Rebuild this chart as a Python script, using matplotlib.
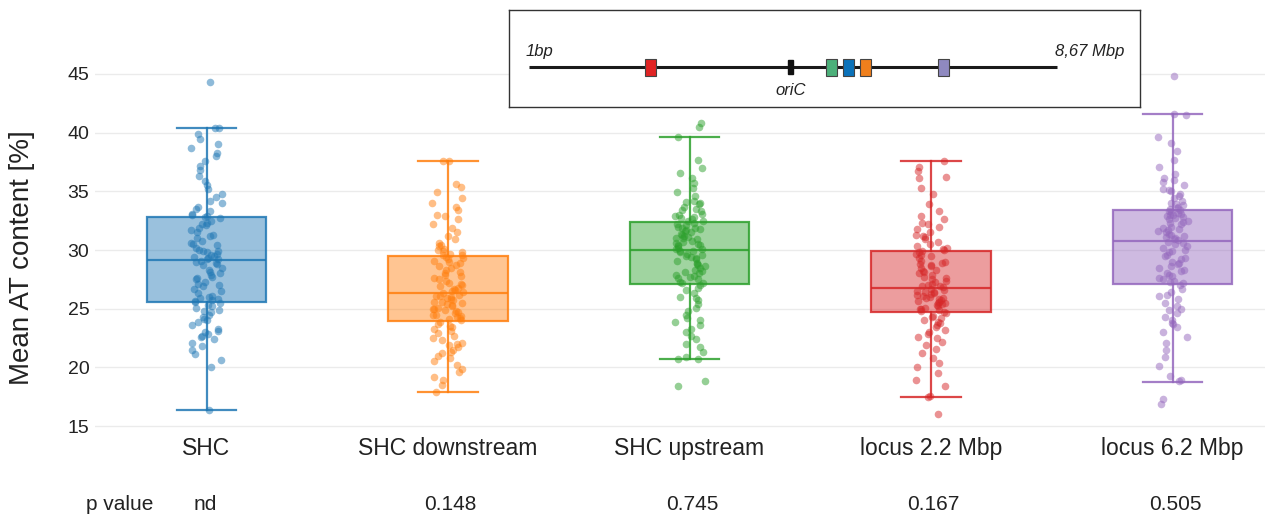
import matplotlib
matplotlib.use("Agg")
import matplotlib.pyplot as plt
from matplotlib.patches import Rectangle
import matplotlib.transforms as mtransforms
import numpy as np

plt.rcParams['font.family'] = ['Liberation Sans', 'DejaVu Sans']

categories = ["SHC", "SHC downstream", "SHC upstream", "locus 2.2 Mbp", "locus 6.2 Mbp"]
colors = ["#1f77b4", "#ff7f0e", "#2ca02c", "#d62728", "#9467bd"]
p_values = ["nd", "0.148", "0.745", "0.167", "0.505"]

# box statistics
q1 = [25.57, 23.95, 27.1, 24.7, 27.1]
med = [29.15, 26.3, 30.0, 26.8, 30.8]
q3 = [32.8, 29.5, 32.4, 29.9, 33.4]
whislo = [16.4, 17.9, 20.7, 17.5, 18.75]
whishi = [40.4, 37.6, 39.6, 37.6, 41.6]

shc = [44.3, 40.4, 40.4, 39.9, 39.5, 39.0, 38.7, 38.3, 38.0, 37.6, 37.2, 36.8, 36.3, 35.9, 35.5, 35.2, 34.8,
       34.5, 34.2, 34.0, 33.7, 33.5, 33.3, 33.1, 33.0, 32.9, 32.85,
       32.7, 32.5, 32.3, 32.1, 31.9, 31.7, 31.5, 31.3, 31.0, 30.8, 30.6, 30.4, 30.2, 30.0, 29.9, 29.8, 29.7,
       29.6, 29.5, 29.4, 29.3, 29.25, 29.2, 32.2, 31.2, 30.5, 29.9,
       29.1, 29.0, 28.9, 28.7, 28.5, 28.3, 28.1, 27.9, 27.7, 27.5, 27.3, 27.1, 26.9, 26.7, 26.5, 26.3, 26.1,
       25.9, 25.8, 25.7, 25.6, 28.8, 28.0, 27.0, 26.0, 25.65, 27.6,
       25.5, 25.3, 25.1, 24.9, 24.7, 24.5, 24.3, 24.1, 23.9, 23.6, 23.3, 23.0, 22.8, 22.6, 22.4, 22.1, 21.8,
       21.5, 21.1, 20.6, 20.0, 24.8, 24.0, 23.1, 22.7, 16.4, 25.2]
shc_down = [37.6, 37.6, 35.6, 35.4, 34.9, 34.4, 34.0, 33.7, 33.4, 33.0, 32.9, 32.6, 32.2, 31.9, 31.5, 31.2,
            30.9, 30.6, 30.3, 30.1, 30.0, 29.9, 29.8, 29.7, 29.6, 30.4, 29.55,
            29.4, 29.3, 29.2, 29.0, 28.9, 28.7, 28.5, 28.3, 28.1, 27.9, 27.8, 27.6, 27.4, 27.2, 27.0, 26.9,
            26.8, 26.7, 26.6, 26.5, 26.4, 26.35, 28.0, 27.5, 29.1, 28.6, 27.1,
            26.2, 26.1, 26.0, 25.9, 25.8, 25.7, 25.6, 25.5, 25.4, 25.3, 25.2, 25.1, 25.0, 24.9, 24.8, 24.7,
            24.6, 24.5, 24.4, 24.3, 24.2, 24.1, 24.0, 25.55, 24.95, 24.45, 26.05,
            23.9, 23.7, 23.5, 23.3, 23.1, 22.9, 22.7, 22.5, 22.3, 22.1, 21.9, 21.7, 21.5, 21.3, 21.0, 20.8,
            20.5, 20.2, 19.9, 19.6, 19.2, 18.9, 18.5, 17.9, 23.4, 22.0, 21.2]
shc_up = [40.8, 40.5, 39.6, 37.7, 37.0, 36.6, 36.1, 35.7, 35.3, 34.9, 34.6, 34.2, 34.0, 33.9, 33.7, 33.5,
          33.3, 33.1, 33.0, 32.9, 32.8, 32.7, 32.6, 32.5, 34.1, 33.4, 32.45,
          32.3, 32.2, 32.1, 32.0, 31.9, 31.8, 31.7, 31.6, 31.5, 31.4, 31.3, 31.2, 31.1, 31.0, 30.9, 30.8,
          30.7, 30.6, 30.5, 30.4, 30.3, 30.2, 30.1, 30.05, 31.85, 31.05, 30.45,
          29.9, 29.8, 29.7, 29.6, 29.5, 29.3, 29.1, 28.9, 28.7, 28.5, 28.3, 28.1, 27.9, 27.7, 27.5, 27.3,
          27.2, 29.4, 28.8, 28.2, 27.6, 29.95, 28.0, 27.8, 29.2, 28.6, 27.15,
          27.0, 26.8, 26.6, 26.3, 26.0, 25.7, 25.4, 25.1, 24.8, 24.5, 24.2, 23.9, 23.6, 23.3, 23.0, 22.7,
          22.4, 22.0, 21.7, 21.3, 20.9, 20.7, 20.7, 18.8, 18.4, 25.9, 24.0]
locus22 = [37.6, 37.1, 36.7, 36.2, 36.1, 35.3, 34.8, 33.9, 33.3, 32.9, 32.6, 32.3, 32.0, 31.8, 31.5, 31.3,
           31.1, 30.9, 30.7, 30.5, 30.3, 30.2, 30.1, 30.0, 31.2, 32.2, 29.95,
           29.8, 29.7, 29.5, 29.3, 29.1, 28.9, 28.7, 28.5, 28.3, 28.1, 27.9, 27.7, 27.5, 27.3, 27.1, 27.0,
           26.9, 26.85, 29.6, 28.8, 28.0, 27.4, 29.0, 28.2, 27.6, 26.95, 28.6,
           26.7, 26.6, 26.5, 26.4, 26.3, 26.2, 26.1, 26.0, 25.9, 25.8, 25.7, 25.6, 25.5, 25.4, 25.3, 25.2,
           25.1, 25.0, 24.9, 24.8, 24.75, 26.45, 25.95, 25.45, 24.95, 26.25, 25.65,
           24.6, 24.4, 24.2, 24.0, 23.8, 23.6, 23.4, 23.2, 23.0, 22.8, 22.5, 22.2, 21.9, 21.6, 21.2, 20.8,
           20.4, 20.0, 19.5, 18.9, 18.4, 17.6, 17.5, 16.0, 24.3, 23.9, 22.6]
locus62 = [44.8, 41.6, 41.5, 39.6, 39.1, 38.4, 37.7, 37.1, 36.5, 36.1, 35.8, 35.5, 35.2, 35.0, 34.8, 34.6,
           34.4, 34.2, 34.0, 33.9, 33.8, 33.7, 33.6, 33.5, 36.0, 35.1, 33.45,
           33.3, 33.2, 33.1, 33.0, 32.9, 32.8, 32.6, 32.4, 32.2, 32.0, 31.8, 31.6, 31.4, 31.2, 31.0, 30.9,
           30.85, 33.15, 32.7, 32.3, 31.9, 31.5, 31.1, 32.95, 32.5, 31.7, 31.3,
           30.7, 30.5, 30.3, 30.0, 29.8, 29.5, 29.3, 29.0, 28.8, 28.5, 28.3, 28.0, 27.8, 27.5, 27.3, 27.15,
           30.6, 29.9, 29.2, 28.6, 27.9, 27.4, 30.2, 29.6, 28.9, 28.2, 27.6,
           27.0, 26.7, 26.4, 26.1, 25.8, 25.5, 25.2, 24.9, 24.6, 24.3, 24.0, 23.7, 23.4, 23.0, 22.6, 22.1,
           21.5, 20.9, 20.1, 19.3, 18.9, 18.8, 17.3, 16.9, 26.2, 25.0, 23.8]
groups = [shc, shc_down, shc_up, locus22, locus62]

# genome map (Mbp)
genome_len = 8.67
ori_pos = 4.30
marker_pos = [2.0, 4.96, 5.25, 5.52, 6.81]
marker_cols = ["#e02424", "#4cb07a", "#0b72ba", "#ef7f1c", "#8f89c0"]

W, H = 1272, 518
fig = plt.figure(figsize=(W / 100, H / 100), dpi=100)
ax = fig.add_axes([95 / W, 1 - 431.9 / H, 1170 / W, 381.4 / H])

stats = []
for i in range(5):
    stats.append(dict(med=med[i], q1=q1[i], q3=q3[i], whislo=whislo[i], whishi=whishi[i], fliers=[]))
pos = np.arange(5)
bp = ax.bxp(stats, positions=pos, widths=0.493, capwidths=0.245, patch_artist=True,
            showfliers=False, manage_ticks=False)
for i in range(5):
    c = colors[i]
    ec = matplotlib.colors.to_rgba(c, 0.85)
    bp['boxes'][i].set_facecolor(matplotlib.colors.to_rgba(c, 0.45))
    bp['boxes'][i].set_edgecolor(ec)
    bp['boxes'][i].set_linewidth(1.6)
    bp['medians'][i].set_color(ec)
    bp['medians'][i].set_linewidth(1.6)
    for k in (2 * i, 2 * i + 1):
        bp['whiskers'][k].set_color(ec)
        bp['whiskers'][k].set_linewidth(1.6)
        bp['caps'][k].set_color(ec)
        bp['caps'][k].set_linewidth(1.6)

rng = np.random.default_rng(7)
for i, vals in enumerate(groups):
    jit = rng.uniform(-0.065, 0.065, len(vals))
    ax.scatter(pos[i] + jit, vals, s=30, color=colors[i], alpha=0.5, linewidths=0, zorder=4)

ax.set_xlim(-0.4617, 4.383)
ax.set_ylim(14.5, 47)
ax.set_yticks([15, 20, 25, 30, 35, 40, 45])
ax.set_xticks(pos)
ax.set_xticklabels(categories, fontsize=16.5, color="#222222")
ax.tick_params(axis='y', labelsize=14, length=0, pad=4, labelcolor="#222222")
ax.tick_params(axis='x', length=0, pad=4)
ax.yaxis.grid(True, color="#ebebeb", linewidth=1)
ax.set_axisbelow(True)
for s in ax.spines.values():
    s.set_visible(False)
ax.set_ylabel("Mean AT content [%]", fontsize=20, color="#222222")
ax.yaxis.set_label_coords(-0.0513, 0.456)

# p values row
trans = mtransforms.blended_transform_factory(ax.transData, fig.transFigure)
fig.text(120 / W, 1 - 505 / H, "p value", fontsize=15, ha='center', va='center', color="#222222")
fig.text(205 / W, 1 - 505 / H, p_values[0], fontsize=15, ha='center', va='center', color="#222222")
for i in range(1, 5):
    ax.text(pos[i] + 0.01, 1 - 505 / H, p_values[i], transform=trans, fontsize=15,
            ha='center', va='center', color="#222222")

# inset genome map
x0 = (509 - 529) / 60.9
x1 = (1140 - 529) / 60.9
iax = fig.add_axes([509 / W, 1 - 107 / H, 631 / W, 97 / H])
iax.set_xlim(x0, x1)
iax.set_ylim(0, 1)
iax.set_xticks([])
iax.set_yticks([])
for s in iax.spines.values():
    s.set_color("#333333")
    s.set_linewidth(1.0)
ly = 40 / 97
iax.plot([0, genome_len], [ly, ly], color="#1a1a1a", lw=2.2, solid_capstyle='butt', zorder=2)
iax.add_patch(Rectangle((ori_pos - 0.04, ly - 0.07), 0.08, 0.14, color="#111111", zorder=3))
mw, mh = 11 / 60.9, 17 / 97
for p, c in zip(marker_pos, marker_cols):
    iax.add_patch(Rectangle((p - mw / 2, ly - mh / 2), mw, mh, facecolor=c, edgecolor="#444444",
                            linewidth=0.8, zorder=4))
iax.text(-0.05, ly + 0.08, "1bp", fontsize=12, style='italic', ha='left', va='bottom', color="#222222")
iax.text(genome_len - 0.03, ly + 0.08, "8,67 Mbp", fontsize=12, style='italic', ha='left', va='bottom',
         color="#222222")
iax.text(ori_pos, ly - 0.16, "oriC", fontsize=12, style='italic', ha='center', va='top', color="#222222")

fig.savefig("out.png", dpi=100)
